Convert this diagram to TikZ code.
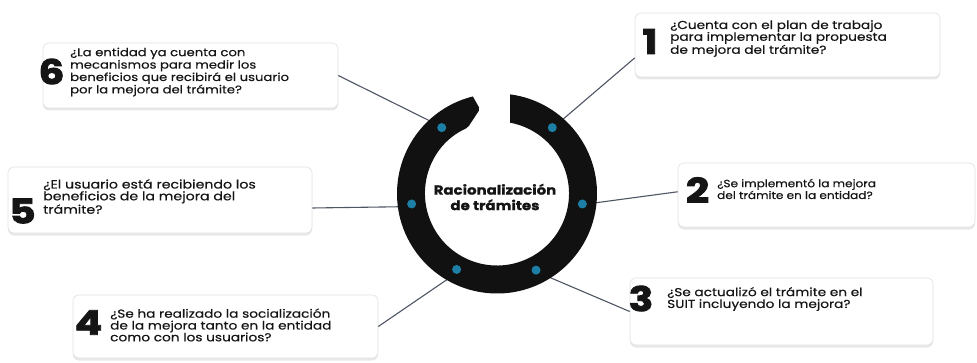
\documentclass[tikz,border=0pt]{standalone}
\usepackage{fontspec}
\setmainfont{Poppins}
\newfontfamily\qfont{Poppins}[FakeStretch=1.19, FakeBold=0.4]
\newfontfamily\qfontb{Poppins}[FakeStretch=1.15, FakeBold=0.4]
\newfontfamily\numfont{Poppins}[FakeStretch=1.2, BoldFeatures={FakeBold=2.5}]
\newfontfamily\titlefont{Poppins}[FakeStretch=1.15, BoldFeatures={FakeBold=1.2}]
\usetikzlibrary{calc,shadows}
\definecolor{ringc}{HTML}{111111}
\definecolor{dotc}{HTML}{1E7FA6}
\definecolor{linec}{HTML}{4F5663}
\definecolor{boxline}{HTML}{E2E2E2}
\definecolor{textc}{HTML}{151515}
\begin{document}
\begin{tikzpicture}[x=1pt,y=1pt,
  box/.style={draw=boxline, line width=0.6pt, fill=white, rounded corners=6pt,
    drop shadow={opacity=0.18, shadow xshift=0pt, shadow yshift=-2.5pt}},
  num/.style={font=\numfont\bfseries\fontsize{34}{34}\selectfont, inner sep=0pt, text=textc},
  qtext/.style={font=\qfont\fontsize{11.5}{11.8}\selectfont, align=left, anchor=west, inner sep=0pt, text=textc},
  conn/.style={draw=linec, line width=1.1pt},
  dotn/.style={circle, fill=dotc, minimum size=9pt, inner sep=0pt}]
\useasboundingbox[fill=white] (0,0) rectangle (977,362);
\coordinate (c) at (497,168.5);
% ring edge coordinates
\coordinate (r1) at ($(c)+(48.4:99)$);
\coordinate (r6) at ($(c)+(132.8:99)$);
\coordinate (r5) at ($(c)+(187.7:99)$);
\coordinate (r2) at ($(c)+(-5.4:99)$);
\coordinate (r3) at ($(c)+(-57.9:99)$);
\coordinate (r4) at ($(c)+(240:99)$);
% boxes
\node[box, minimum width=305pt, minimum height=64pt] (b1) at (787.5,317) {};
\node[box, minimum width=297pt, minimum height=64pt] (b2) at (826.5,167) {};
\node[box, minimum width=303pt, minimum height=67pt] (b3) at (781.5,50.5) {};
\node[box, minimum width=305pt, minimum height=63pt] (b4) at (225.5,35.5) {};
\node[box, minimum width=304pt, minimum height=66pt] (b5) at (160,162) {};
\node[box, minimum width=295pt, minimum height=65pt] (b6) at (190.5,286.5) {};
% connectors
\draw[conn] (r1) -- ($(b1.south west)!0.3!(b1.north west)$);
\draw[conn] (r2) -- ($(b2.south west)!0.55!(b2.north west)$);
\draw[conn] (r3) -- (b3.west);
\draw[conn] (r4) -- (b4.east);
\draw[conn] (r5) -- ($(b5.south east)!0.38!(b5.north east)$);
\draw[conn] (r6) -- (b6.east);
% ring
\fill[ringc] ($(c)+(82.5:100)$) arc[start angle=82.5, end angle=-256, radius=100]
  [rounded corners=2pt] -- (480,253) -- ($(c)+(-246:72)$) [sharp corners]
  arc[start angle=-246, end angle=79.6, radius=72] -- cycle;
\node[dotn] (d1) at ($(c)+(50:86)$) {};
\node[dotn] (d2) at ($(c)+(-7:86)$) {};
\node[dotn] (d3) at ($(c)+(-63:86)$) {};
\node[dotn] (d4) at ($(c)+(242:86)$) {};
\node[dotn] (d5) at ($(c)+(187:86)$) {};
\node[dotn] (d6) at ($(c)+(130:86)$) {};
\node[font=\titlefont\bfseries\fontsize{13}{15.5}\selectfont, align=center, inner sep=0pt, text=textc] (title) at (495,165) {Racionalización\\de trámites};
% numbers
\node[num] (n1) at (650,320.5) {1};
\node[num] (n2) at (697.5,172) {2};
\node[num] (n3) at (641,63.5) {3};
\node[num] (n4) at (88.5,39.5) {4};
\node[num] (n5) at (22.5,151) {5};
\node[num] (n6) at (51.5,290.5) {6};
% texts
\node[qtext] (t1) at (670,323.5) {¿Cuenta con el plan de trabajo\\para implementar la propuesta\\de mejora del trámite?};
\node[qtext, font=\qfontb\fontsize{10.5}{11.8}\selectfont] (t2) at (717,173) {¿Se implementó la mejora\\del trámite en la entidad?};
\node[qtext] (t3) at (667,63) {¿Se actualizó el trámite en el\\SUIT incluyendo la mejora?};
\node[qtext] (t4) at (110,37) {¿Se ha realizado la socialización\\de la mejora tanto en la entidad\\como con los usuarios?};
\node[qtext, font=\qfont\fontsize{11.9}{11.8}\selectfont] (t5) at (43,165.5) {¿El usuario está recibiendo los\\beneficios de la mejora del\\trámite?};
\node[qtext, font=\qfont\fontsize{11.1}{12.4}\selectfont] (t6) at (70,290) {¿La entidad ya cuenta con\\mecanismos para medir los\\beneficios que recibirá el usuario\\por la mejora del trámite?};
\end{tikzpicture}
\end{document}
